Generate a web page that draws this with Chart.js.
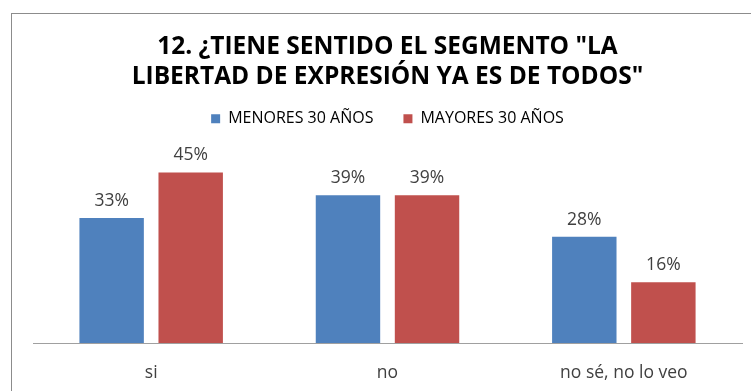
<!DOCTYPE html>
<html>
<head>
<meta charset="utf-8">
<script src="https://cdn.jsdelivr.net/npm/chart.js@4/dist/chart.umd.min.js"></script>
<style>
  html, body { margin: 0; padding: 0; background: #ffffff; }
  #wrap { position: relative; width: 751px; height: 391px; }
</style>
</head>
<body>
<div id="wrap"><canvas id="chart" width="751" height="391"></canvas></div>
<script>
const categories = ["si", "no", "no sé, no lo veo"];
const seriesNames = ["MENORES 30 AÑOS", "MAYORES 30 AÑOS"];
const menores30 = [33, 39, 28];
const mayores30 = [45, 39, 16];
const titleLines = ["12. ¿TIENE SENTIDO EL SEGMENTO \"LA", "LIBERTAD DE EXPRESIÓN YA ES DE TODOS\""];

const FONT = "'Open Sans', 'DejaVu Sans', sans-serif";

// Frame around the chart object
const framePlugin = {
  id: 'frame',
  beforeDraw(chart) {
    const ctx = chart.ctx;
    ctx.save();
    ctx.strokeStyle = '#8c8c8c';
    ctx.lineWidth = 1;
    ctx.strokeRect(11.5, 13.5, 800, 400);
    ctx.restore();
  }
};

// Percentage labels above each bar
const valueLabels = {
  id: 'valueLabels',
  afterDatasetsDraw(chart) {
    const ctx = chart.ctx;
    ctx.save();
    ctx.font = "17.5px " + FONT;
    ctx.fillStyle = '#404040';
    ctx.textAlign = 'center';
    ctx.textBaseline = 'middle';
    chart.data.datasets.forEach((ds, i) => {
      chart.getDatasetMeta(i).data.forEach((bar, j) => {
        ctx.fillText(ds.data[j] + '%', bar.x, bar.y - 17);
      });
    });
    ctx.restore();
  }
};

new Chart(document.getElementById('chart'), {
  type: 'bar',
  data: {
    labels: categories,
    datasets: [
      { label: seriesNames[0], data: menores30, backgroundColor: '#4f81bd' },
      { label: seriesNames[1], data: mayores30, backgroundColor: '#c0504d' }
    ]
  },
  options: {
    responsive: false,
    animation: false,
    devicePixelRatio: 1,
    layout: { padding: { left: 33, right: 9, top: 20, bottom: 0 } },
    datasets: { bar: { categoryPercentage: 0.669, barPercentage: 0.815 } },
    plugins: {
      title: {
        display: true,
        text: titleLines,
        color: '#000000',
        font: { family: FONT, size: 24.5, weight: 'bold', lineHeight: 1.22 },
        padding: { top: 12, bottom: -11 }
      },
      legend: {
        display: true,
        position: 'top',
        labels: {
          color: '#000000',
          font: { family: FONT, size: 16 },
          boxWidth: 9,
          boxHeight: 9,
          padding: 30
        }
      },
      tooltip: { enabled: false }
    },
    scales: {
      x: {
        grid: { display: false, drawTicks: false },
        border: { display: true, color: '#a0a0a0', width: 1 },
        ticks: { color: '#404040', font: { family: FONT, size: 17.5 }, padding: 20 },
        afterFit(scale) { scale.height = 48; }
      },
      y: {
        display: false,
        min: 0,
        max: 54.4
      }
    }
  },
  plugins: [framePlugin, valueLabels]
});
</script>
</body>
</html>
